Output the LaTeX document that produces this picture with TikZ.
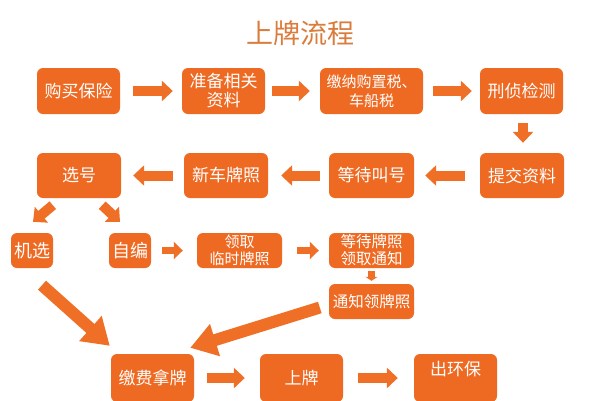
\documentclass[tikz,border=0pt]{standalone}
\usepackage{fontspec}
\setmainfont{Noto Sans CJK SC}
\usetikzlibrary{arrows.meta,calc}
\definecolor{boxc}{HTML}{EE6A22}
\definecolor{arrc}{HTML}{EF6F26}
\definecolor{titlec}{HTML}{D97C3C}
\tikzset{
  box/.style={fill=boxc, rounded corners=6pt, text=white, inner sep=0pt, align=center,
    font=\fontsize{17}{19}\selectfont},
  bigbox/.style={box, minimum width=84pt, minimum height=45pt},
  smallbox/.style={box, minimum height=35pt, font=\fontsize{15.5}{18}\selectfont},
  farrow/.style={draw=arrc, line width=10pt, -{Triangle[width=20pt,length=11pt]}},
  marrow/.style={draw=arrc, line width=7pt, -{Triangle[width=17pt,length=9pt]}},
  tarrow/.style={draw=arrc, line width=7pt, -{Triangle[width=12pt,length=4pt]}},
  harrow/.style={draw=arrc, line width=12pt, -{Triangle[width=32pt,length=26pt]}},
}
\begin{document}
\begin{tikzpicture}[x=1pt,y=-1pt]
\useasboundingbox[fill=white] (0,0) rectangle (600,400);
\begin{scope}
\clip (0,0) rectangle (600,400);
\node[text=titlec, font=\fontsize{27}{30}\selectfont] (title) at (300,33) {上牌流程};
% row 1
\node[bigbox, minimum width=83pt, minimum height=46pt] (b1) at (78.5,91) {购买保险};
\node[bigbox, minimum width=83pt, minimum height=46pt] (b2) at (223.5,91) {准备相关\\资料};
\node[bigbox, minimum width=103pt, minimum height=46pt, font=\fontsize{15}{19}\selectfont] (b3) at (371.5,91) {缴纳购置税、\\车船税};
\node[bigbox, minimum width=83pt, minimum height=46pt] (b4) at (521.5,91) {刑侦检测};
% row 2
\node[bigbox] (c4) at (522,175.5) {提交资料};
\node[bigbox, minimum width=85pt] (c3) at (371.5,175.5) {等待叫号};
\node[bigbox] (c2) at (226,175.5) {新车牌照};
\node[bigbox] (c1) at (79,175.5) {选号};
% row 3
\node[smallbox, minimum width=42pt, font=\fontsize{18}{20}\selectfont] (d1) at (32,250.5) {机选};
\node[smallbox, minimum width=42pt, font=\fontsize{18}{20}\selectfont] (d2) at (130,250.5) {自编};
\node[smallbox, minimum width=85pt, font=\fontsize{15}{17}\selectfont] (d3) at (239.5,250.5) {领取\\临时牌照};
\node[smallbox, minimum width=85pt, font=\fontsize{15.5}{17}\selectfont] (d4) at (371.5,250.5) {等待牌照\\领取通知};
\node[smallbox, minimum width=85pt] (e4) at (371.5,301.5) {通知领牌照};
% row 4
\node[bigbox, minimum width=83pt, minimum height=48pt] (f1) at (152.5,378) {缴费拿牌};
\node[bigbox, minimum width=83pt, minimum height=48pt] (f2) at (301.5,378) {上牌};
\node[bigbox, minimum width=83pt, minimum height=48pt, text height=13pt, text depth=19pt] (f3) at (455.5,378) {出环保};
% arrows row 1
\draw[farrow, shorten <=13pt, shorten >=9pt] (b1.east) -- (b2.west);
\draw[farrow, shorten <=7pt, shorten >=10pt] (b2.east) -- (b3.west);
\draw[farrow, shorten <=10pt, shorten >=8pt] (b3.east) -- (b4.west);
\draw[farrow, shorten <=9pt, shorten >=10pt] ($(b4.south)+(1.5,0)$) -- ($(c4.north)+(1,0)$);
% arrows row 2
\draw[farrow, shorten <=15pt, shorten >=11pt] (c4.west) -- (c3.east);
\draw[farrow, shorten <=9pt, shorten >=13pt] (c3.west) -- (c2.east);
\draw[farrow, shorten <=11pt, shorten >=12pt] (c2.west) -- (c1.east);
% diagonal from c1
\draw[farrow] ($(c1.south west)+(16,7)$) -- ($(d1.north)+(1,-11)$);
\draw[farrow] ($(c1.south east)+(-19,7)$) -- ($(d2.north)+(-10,-11)$);
% arrows row 3
\draw[marrow, shorten <=11pt, shorten >=14pt] (d2.east) -- (d3.west);
\draw[marrow, shorten <=15pt, shorten >=10pt] (d3.east) -- (d4.west);
\draw[tarrow, shorten <=3pt, shorten >=3pt] (d4.south) -- (e4.north);
% big diagonals
\draw[harrow] ($(d1.south)+(10,17)$) -- ($(f1.north west)+(-1,-8)$);
\draw[harrow] ($(e4.west)+(-9,6)$) -- ($(f1.north east)+(-4,-6)$);
% arrows row 4
\draw[farrow, shorten <=13pt, shorten >=15pt] (f1.east) -- (f2.west);
\draw[farrow, shorten <=15pt, shorten >=16pt] (f2.east) -- (f3.west);
\end{scope}
\end{tikzpicture}
\end{document}
